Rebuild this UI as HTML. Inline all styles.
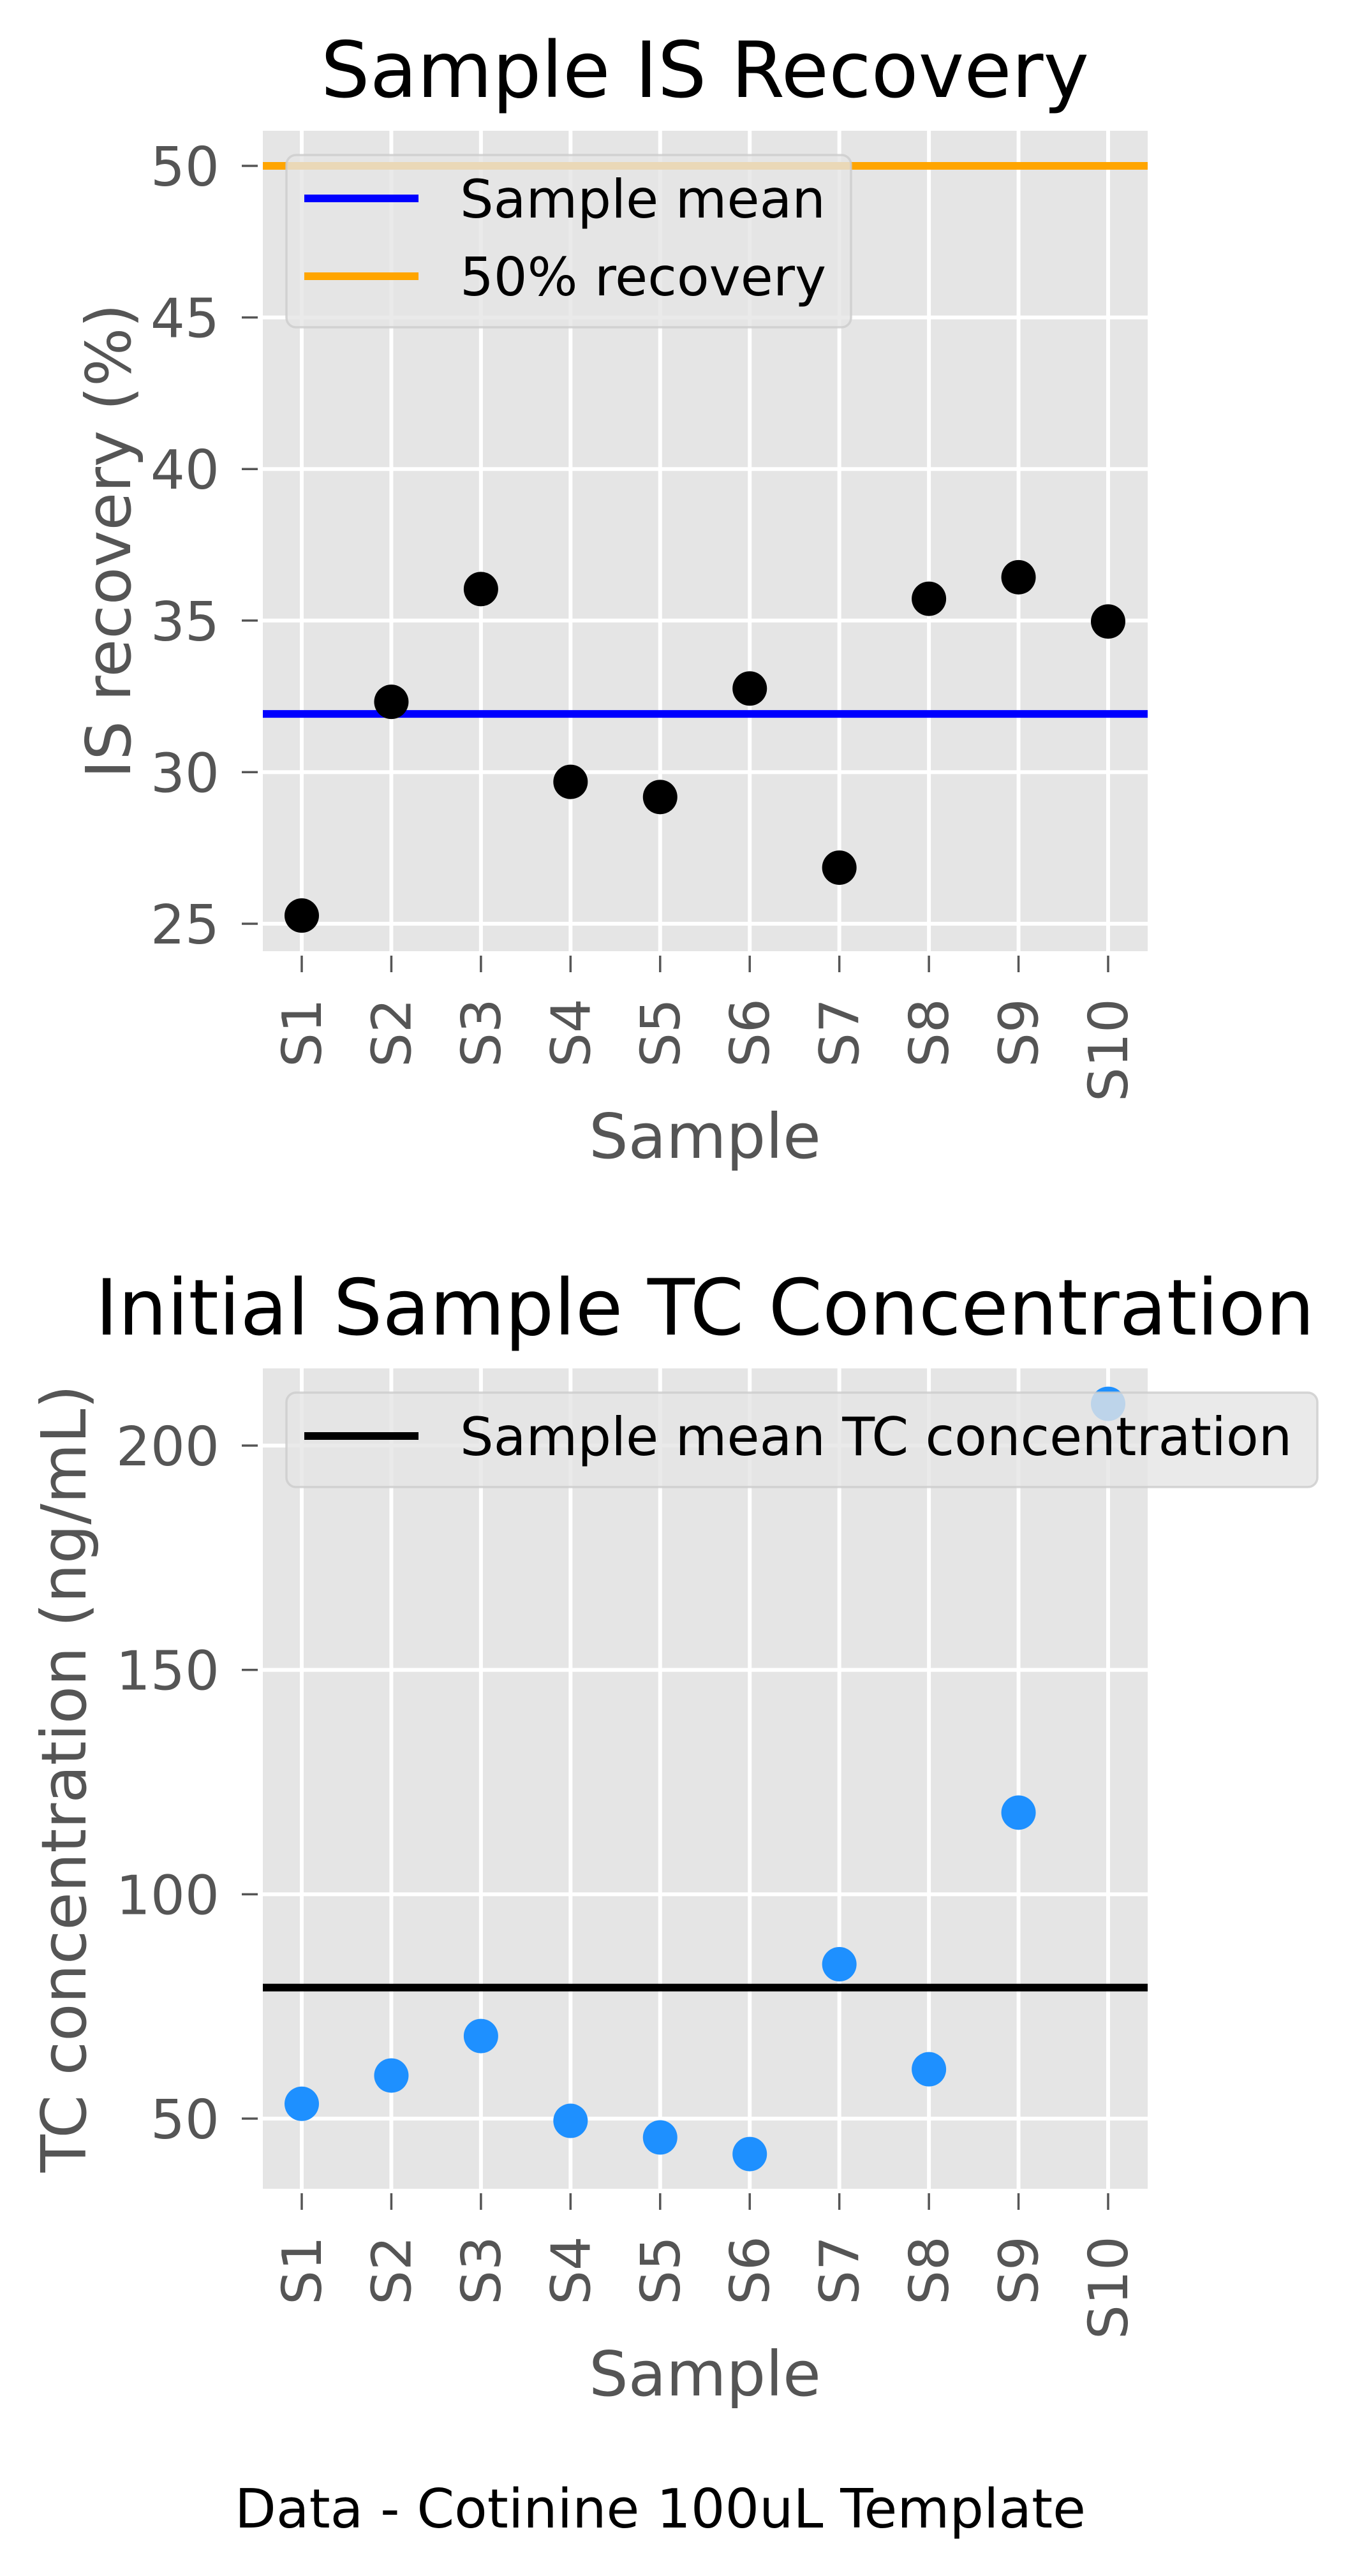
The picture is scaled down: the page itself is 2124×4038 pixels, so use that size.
<!DOCTYPE html>
<html><head><meta charset="utf-8"><style>
html,body{margin:0;padding:0;background:#fff}
svg{display:block}
text{font-family:"DejaVu Sans","Liberation Sans",sans-serif}
</style></head><body>
<svg id="fig" xmlns="http://www.w3.org/2000/svg" width="2124" height="4038" viewBox="0 0 2124 4038">
<rect width="2124" height="4038" fill="#fff"/>
<g id="chart1"></g>
<g id="chart2"></g>
<text x="1035" y="3962" font-size="85" text-anchor="middle" fill="#000" textLength="1334" lengthAdjust="spacingAndGlyphs">Data - Cotinine 100uL Template</text>
</svg>
<script>
const samples = ["S1","S2","S3","S4","S5","S6","S7","S8","S9","S10"];
const recoveryValues = [25.27,32.32,36.04,29.68,29.18,32.76,26.85,35.72,36.43,34.97];
const recoveryMean = [31.92];
const recoveryRef = [50];
const recoveryTicks = [25,30,35,40,45,50];
const tcValues = [53.3,59.6,68.4,49.5,45.8,42.1,84.4,61.0,118.2,209.3];
const tcMean = [79.2];
const tcTicks = [50,100,150,200];

const NS="http://www.w3.org/2000/svg";
function mk(parent,tag,attrs,txt){const e=document.createElementNS(NS,tag);for(const k in attrs)e.setAttribute(k,attrs[k]);if(txt!==undefined)e.textContent=txt;parent.appendChild(e);return e;}

function drawChart(g,cfg){
  const L=412,R=1799,T=cfg.top,B=cfg.bottom;
  const x0=473,dx=(1737-473)/9;
  const xs=i=>x0+i*dx;
  const ys=v=>cfg.y0px+(v-cfg.y0)*(cfg.y1px-cfg.y0px)/(cfg.y1-cfg.y0);
  const bg=mk(g,'rect',{x:L,y:T,width:R-L,height:B-T,fill:'#e5e5e5'});
  
  
  cfg.ticks.forEach(t=>{
    const y=ys(t);
    const gl=mk(g,'line',{x1:L,x2:R,y1:y,y2:y,stroke:'#fff','stroke-width':6});
    
    
    const tk=mk(g,'line',{x1:379,x2:404,y1:y,y2:y,stroke:'#555','stroke-width':3.5});
    
    
    const tl=mk(g,'text',{x:344,y:y+31,'font-size':85,'text-anchor':'end',fill:'#555'},String(t));
    
    
  });
  samples.forEach((s,i)=>{
    const x=xs(i);
    const gl=mk(g,'line',{x1:x,x2:x,y1:T,y2:B,stroke:'#fff','stroke-width':6});
    
    
    const tk=mk(g,'line',{x1:x,x2:x,y1:B+7,y2:B+33,stroke:'#555','stroke-width':3.5});
    
    
    const tl=mk(g,'text',{x:0,y:0,'font-size':85,'text-anchor':'end',fill:'#555',transform:`translate(${x+30},${B+74}) rotate(-90)`},s);
    
    
  });
  cfg.hlines.forEach(h=>{
    const y=ys(h.v);
    const ln=mk(g,'line',{x1:L,x2:R,y1:y,y2:y,stroke:h.color,'stroke-width':12});
    
    
  });
  cfg.values.forEach((v,i)=>{
    const c=mk(g,'circle',{cx:xs(i),cy:ys(v),r:27,fill:cfg.color});
    
    
  });
  const lg=mk(g,'g',{});
  
  
  mk(lg,'rect',{x:449,y:cfg.legTop,width:cfg.legW,height:cfg.legH,rx:15,fill:'rgba(229,229,229,0.8)',stroke:'rgba(204,204,204,0.8)','stroke-width':3.5});
  cfg.hlines.forEach((h,k)=>{
    const y=cfg.legTop+68+k*122;
    const e=mk(lg,'g',{});
    
    
    mk(e,'line',{x1:477,x2:656,y1:y,y2:y,stroke:h.color,'stroke-width':12});
    mk(e,'text',{x:721,y:y+30,'font-size':83,fill:'#000'},h.label);
  });
  const ti=mk(g,'text',{x:1105,y:T-53,'font-size':121,'text-anchor':'middle',fill:'#000'},cfg.title);
  
  
  const xl=mk(g,'text',{x:1105,y:B+324,'font-size':97,'text-anchor':'middle',fill:'#555'},'Sample');
  
  
  const yl=mk(g,'text',{x:0,y:0,'font-size':97,'text-anchor':'middle',fill:'#555',transform:`translate(${cfg.ylabX},${(T+B)/2}) rotate(-90)`},cfg.ylabel);
  
  
}

drawChart(document.getElementById('chart1'),{
  top:205,bottom:1491,y0:25,y0px:1448,y1:50,y1px:260,
  ticks:recoveryTicks,values:recoveryValues,color:'#000',
  hlines:[{v:recoveryMean[0],color:'#0000ff',label:'Sample mean',name:'sample-mean-line'},
          {v:recoveryRef[0],color:'#ffa500',label:'50% recovery',name:'fifty-percent-line'}],
  legTop:243,legW:885,legH:270,
  title:'Sample IS Recovery',ylabel:'IS recovery (%)',ylabX:204
});
drawChart(document.getElementById('chart2'),{
  top:2145,bottom:3431,y0:50,y0px:3321,y1:200,y1px:2266,
  ticks:tcTicks,values:tcValues,color:'#1e90ff',
  hlines:[{v:tcMean[0],color:'#000',label:'Sample mean TC concentration',name:'tc-mean-line'}],
  legTop:2183,legW:1616,legH:148,
  title:'Initial Sample TC Concentration',ylabel:'TC concentration (ng/mL)',ylabX:134
});
</script>
</body></html>
